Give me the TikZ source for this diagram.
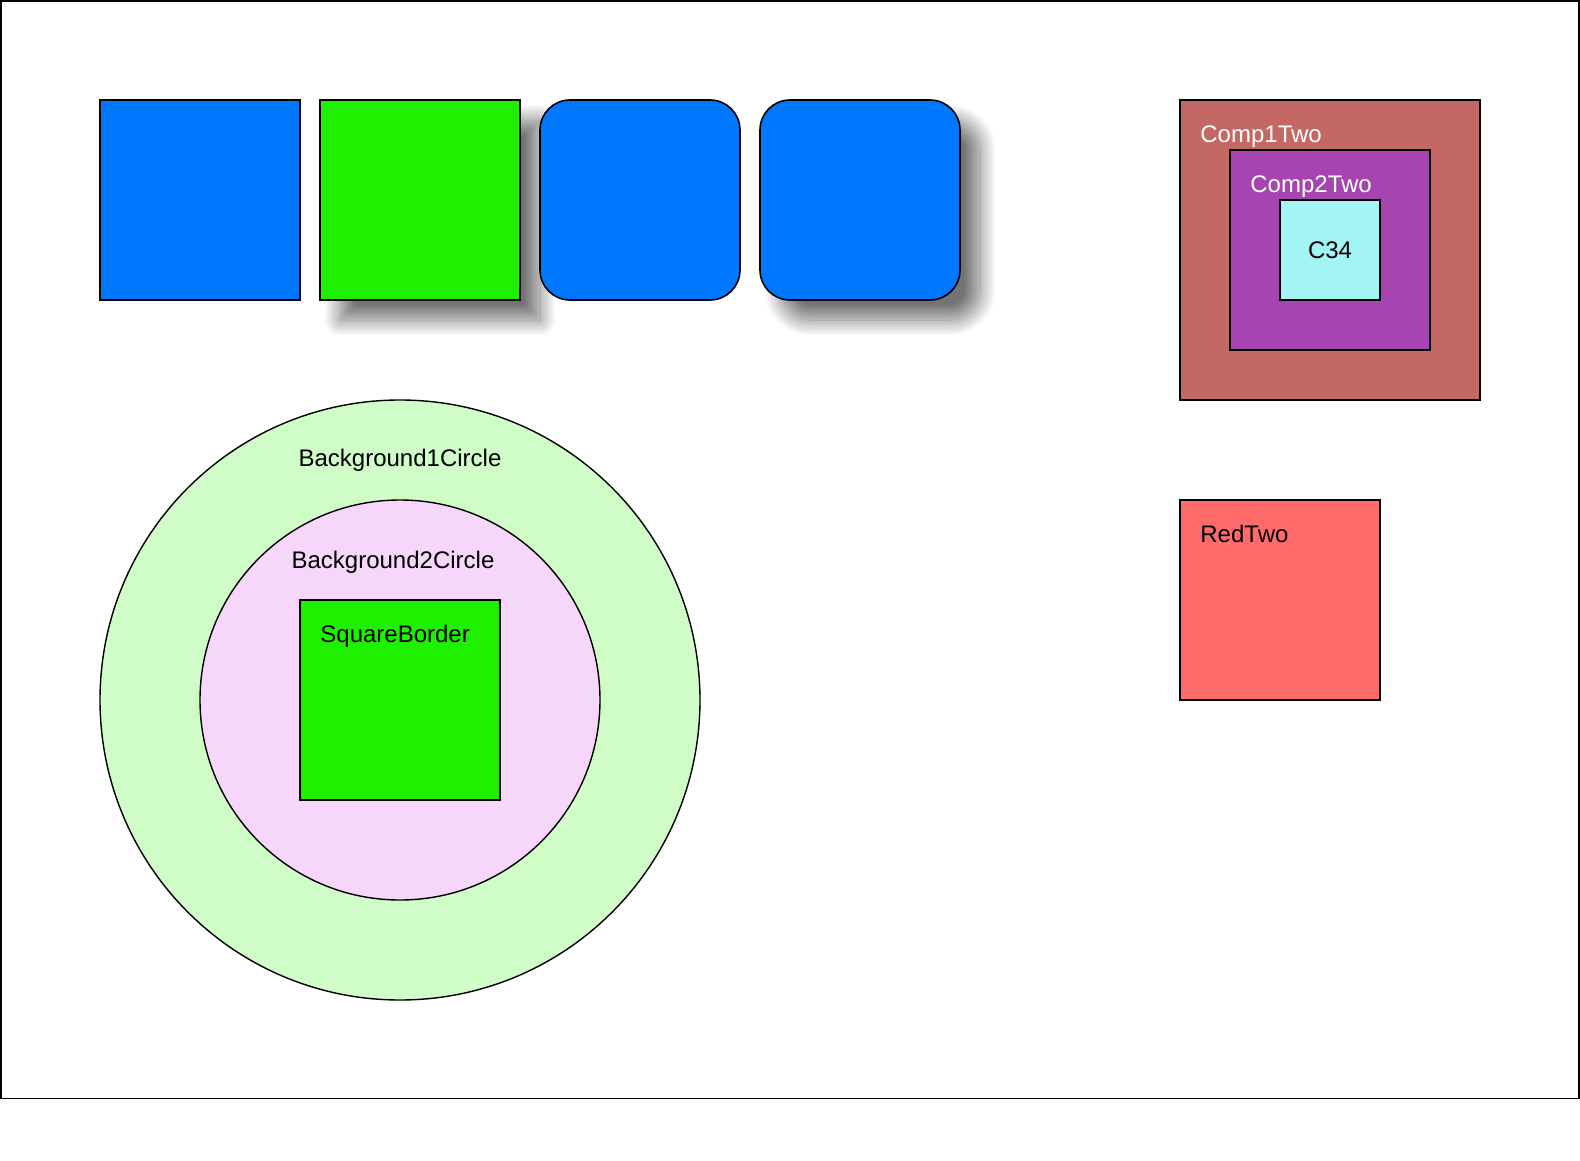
\documentclass[tikz,border=0pt]{standalone}
\usepackage{fontspec}
\setmainfont{Liberation Sans}
\usepackage{xcolor}
\definecolor{tileblue}{HTML}{0077FF}
\definecolor{tilegreen}{HTML}{1EF000}
\definecolor{compone}{HTML}{C46865}
\definecolor{comptwo}{HTML}{A745B0}
\definecolor{cthree}{HTML}{A3F5F5}
\definecolor{redtwo}{HTML}{FF6B6B}
\definecolor{bgone}{HTML}{CFFCC7}
\definecolor{bgtwo}{HTML}{F7D6FB}
\usepackage{tikz}
\usetikzlibrary{positioning, calc, shadows.blur}

\begin{document}
\begin{tikzpicture}[
    x=0.5pt, y=-0.5pt,
    node distance=10pt,
    tile/.style={draw=black, line width=0.8pt, minimum size=100pt, inner sep=0pt, outer sep=0pt},
    roundtile/.style={tile, rounded corners=15pt},
    shade/.style={blur shadow={shadow xshift=10pt, shadow yshift=-10pt, shadow blur radius=8pt, shadow blur steps=24, shadow opacity=55}},
    disc/.style={draw=black, line width=0.7pt, circle, inner sep=0pt, outer sep=0pt},
    lbl/.style={font=\fontsize{12pt}{14pt}\selectfont, inner sep=0pt, anchor=base west}
]
\useasboundingbox (0,0) rectangle (1580,1161);
\node[draw=black, line width=0.9pt, minimum width=789pt, minimum height=548.75pt, inner sep=0pt] (canvas) at (790,549.75) {};

% Top row - tiles
\node[tile, fill=tileblue] (sq1) at (200,200) {};
\node[tile, fill=tilegreen, shade, right=of sq1] (sq2) {};
\node[roundtile, fill=tileblue, right=of sq2] (sq3) {};
\node[roundtile, fill=tileblue, shade, right=of sq3] (sq4) {};

% Right column - nested boxes
\node[tile, fill=compone, minimum size=150pt] (comp1) at (1330,250) {};
\node[tile, fill=comptwo] (comp2) at (1330,250) {};
\node[tile, fill=cthree, minimum size=50pt, font=\fontsize{12pt}{14pt}\selectfont] (c34) at (1330,250) {C34\hspace{5pt}};
\node[tile, fill=redtwo] (red) at (1280,600) {};

\node[lbl, text=white] (comp1txt) at ($(comp1.north west)+(20,42)$) {Comp1Two};
\node[lbl, text=white] (comp2txt) at ($(comp2.north west)+(20,42)$) {Comp2Two};
\node[lbl] (redtxt) at ($(red.north west)+(20,42)$) {RedTwo};

% Left - circles
\node[disc, fill=bgone, minimum size=300pt] (bg1) at (400,700) {};
\node[disc, fill=bgtwo, minimum size=200pt] (bg2) at (400,700) {};
\node[tile, fill=tilegreen] (sqb) at (400,700) {};

\node[lbl, anchor=base] (bg1txt) at ($(bg1.north)+(0,66)$) {Background1Circle};
\node[lbl, anchor=base] (bg2txt) at ($(bg2.north)+(-7,68)$) {Background2Circle};
\node[lbl] (sqbtxt) at ($(sqb.north west)+(20,42)$) {SquareBorder};

\end{tikzpicture}
\end{document}
